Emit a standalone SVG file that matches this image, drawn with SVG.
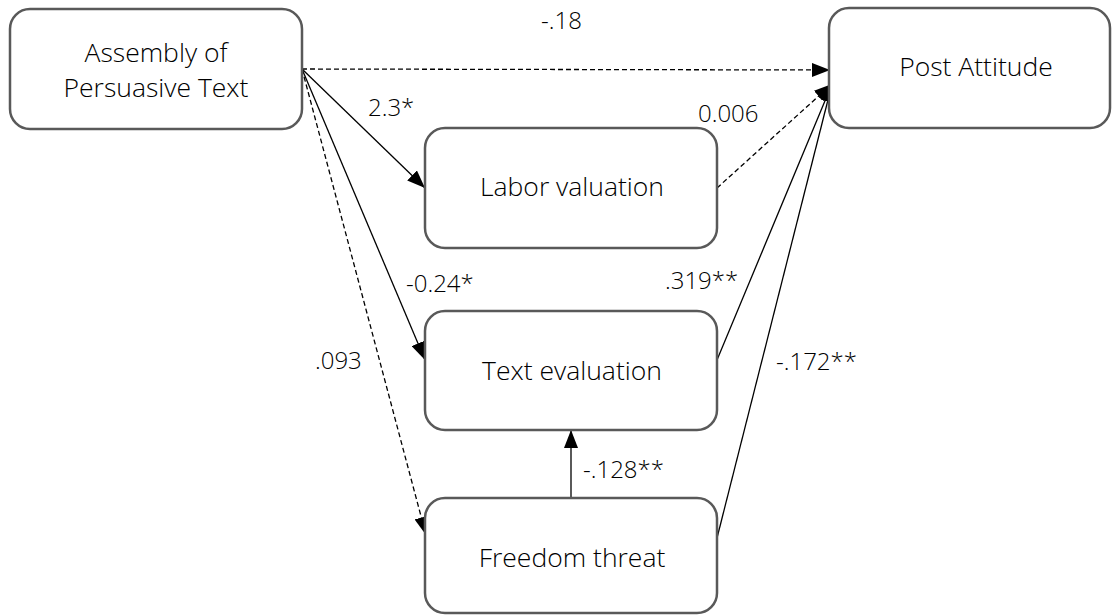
<svg xmlns="http://www.w3.org/2000/svg" width="1112" height="615" viewBox="0 0 1112 615">
<style>
.box{fill:#fff;stroke:#595959;stroke-width:2.5}
.nl{font-family:"Open Sans","Liberation Sans",sans-serif;font-weight:300;font-size:26.5px;fill:#000;text-anchor:middle}
.el{font-family:"Open Sans","Liberation Sans",sans-serif;font-weight:300;font-size:24px;fill:#000}
.c{fill:none;stroke:#000;stroke-width:1.3}
.d{stroke-dasharray:5,3}
</style>
<defs>
<marker id="ah" markerWidth="18" markerHeight="14" refX="18" refY="7" orient="auto" markerUnits="userSpaceOnUse">
<path d="M0,0 L18,7 L0,14 Z" fill="#000"/>
</marker>
</defs>
<g id="connectors">
<path class="c d" d="M302,69 L830,70" marker-end="url(#ah)"/>
<path class="c" d="M302,69 L425,188" marker-end="url(#ah)"/>
<path class="c" d="M302,69 L425,360" marker-end="url(#ah)"/>
<path class="c d" d="M302,69 L426,535" marker-end="url(#ah)"/>
<path class="c" d="M571,498 L571,430" marker-end="url(#ah)"/>
<path class="c d" d="M717,188 L832,84" marker-end="url(#ah)"/>
<path class="c" d="M717,360 L832,84" marker-end="url(#ah)"/>
<path class="c" d="M717,538 L832,84" marker-end="url(#ah)"/>
</g>
<g id="labels">
<text class="el" x="541" y="29">-.18</text>
<text class="el" x="368" y="116">2.3*</text>
<text class="el" x="698" y="122">0.006</text>
<text class="el" x="406" y="292">-0.24*</text>
<text class="el" x="665" y="289">.319**</text>
<text class="el" x="315" y="369">.093</text>
<text class="el" x="583" y="478">-.128**</text>
<text class="el" x="776" y="370">-.172**</text>
</g>
<g id="node-assembly">
<rect class="box" x="10" y="9" width="292" height="120" rx="20"/>
<text class="nl" x="156" y="62">Assembly of</text>
<text class="nl" x="156" y="97">Persuasive Text</text>
</g>
<g id="node-post">
<rect class="box" x="829" y="8" width="281" height="120" rx="20"/>
<text class="nl" x="976" y="76">Post Attitude</text>
</g>
<g id="node-labor">
<rect class="box" x="425" y="128" width="292" height="120" rx="20"/>
<text class="nl" x="572" y="196">Labor valuation</text>
</g>
<g id="node-text">
<rect class="box" x="425" y="311" width="292" height="119" rx="20"/>
<text class="nl" x="572" y="380">Text evaluation</text>
</g>
<g id="node-freedom">
<rect class="box" x="425" y="498" width="292" height="115" rx="20"/>
<text class="nl" x="572" y="567">Freedom threat</text>
</g>
</svg>
